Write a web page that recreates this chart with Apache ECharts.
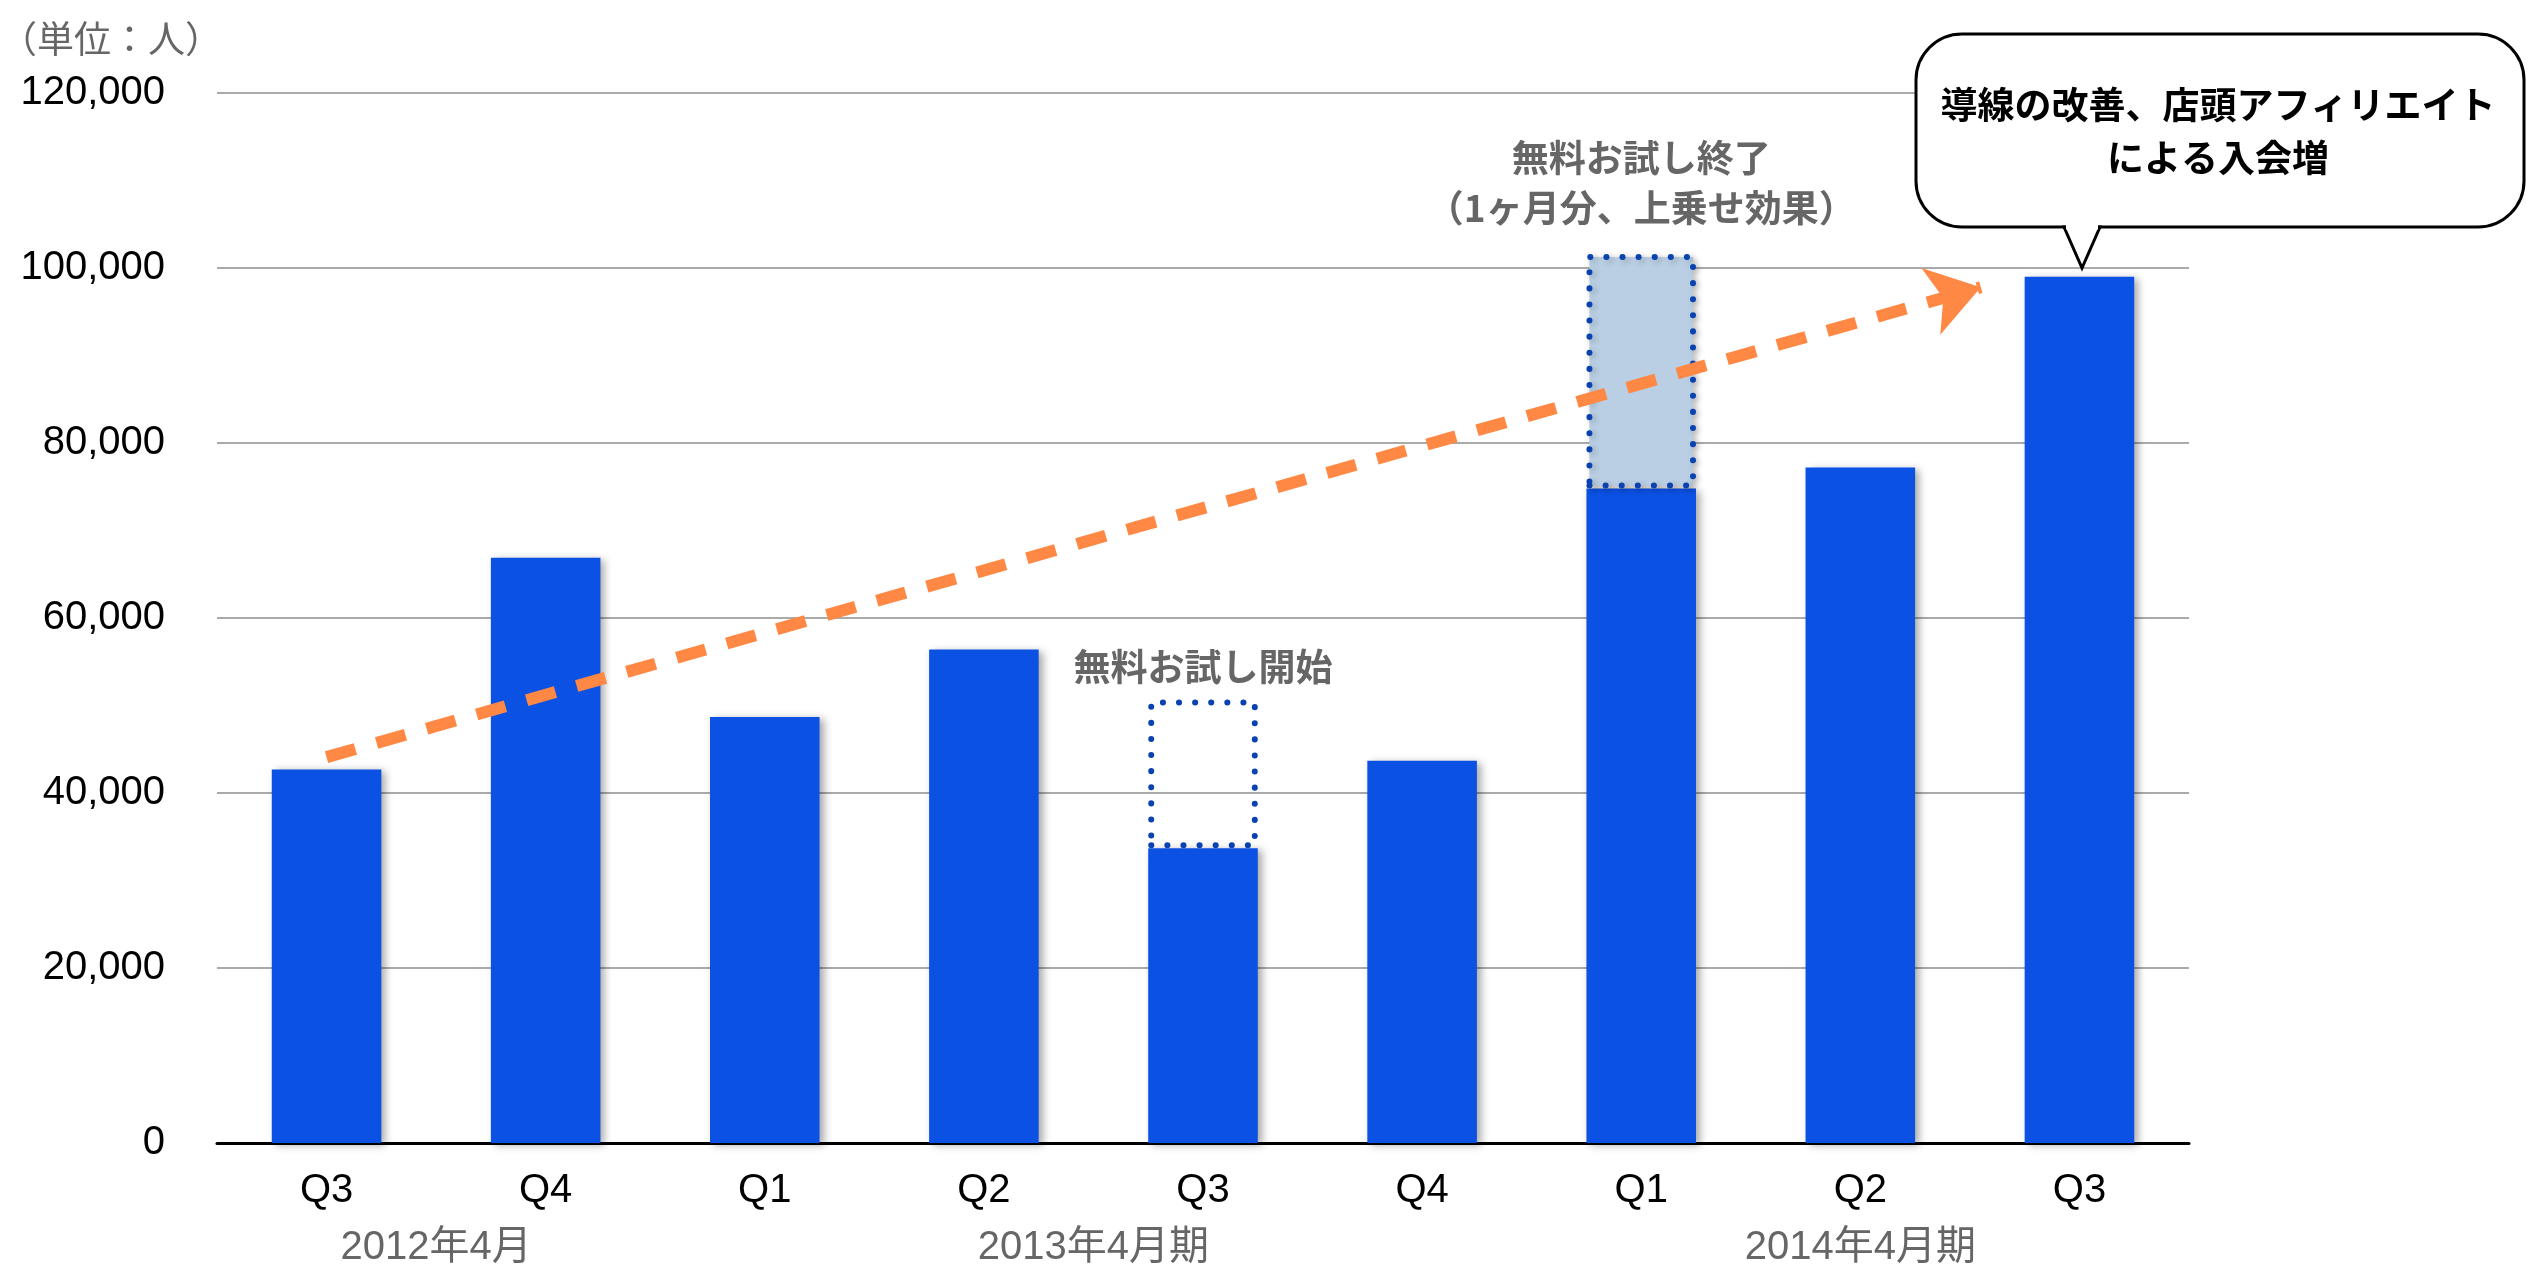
<!DOCTYPE html>
<html>
<head>
<meta charset="utf-8">
<title>会員数推移</title>
<script src="https://cdn.jsdelivr.net/npm/echarts@6/dist/echarts.min.js"></script>
<style type="text/css">
html, body { margin: 0; padding: 0; background: #fff; }
#main { width: 2531px; height: 1266px; }
</style>
</head>
<body>
<div id="main"></div>
<script type="text/javascript">
    // 四半期ラベル
    var quarters = ['Q3', 'Q4', 'Q1', 'Q2', 'Q3', 'Q4', 'Q1', 'Q2', 'Q3'];
    // 会員数(人)
    var members = [42700, 66900, 48700, 56400, 33700, 43700, 74800, 77200, 99000];
    // 無料お試し分(点線の枠)
    var trialExtra = [null, null, null, null, 17000, null, 26800, null, null];
    var trialNotes = ['', '', '', '', '無料お試し開始', '', '無料お試し終了\n（1ヶ月分、上乗せ効果）', '', ''];
    // 期のラベル(カテゴリ位置)
    var yearPos = [0.5, 3.5, 7];
    var yearText = ['2012年4月', '2013年4月期', '2014年4月期'];
    // 傾向線 (始点と矢印の先)
    var trendX = [0, 7.55];
    var trendY = [44100, 97800];

    var font = "'Liberation Sans', 'Noto Sans CJK JP', sans-serif";
    var cjk = "'Noto Sans CJK JP', sans-serif";
    var barBlue = '#0B51E3';
    var dotBlue = '#0A42B0';

    var trialData = trialExtra.map(function (v, i) {
        if (v == null) return null;
        var last = (i === 6);
        return {
            value: v,
            itemStyle: {
                color: last ? '#BACFE4' : 'rgba(255,255,255,0)',
                shadowColor: last ? 'rgba(0,0,0,0.25)' : 'rgba(0,0,0,0)'
            },
            label: {
                show: true,
                formatter: trialNotes[i],
                distance: last ? 21 : 7
            }
        };
    });

    var chart = echarts.init(document.getElementById('main'), null, { renderer: 'canvas' });
    var option = {
        animation: false,
        textStyle: { fontFamily: font },
        grid: { left: 217, right: 342, top: 93, bottom: 123, outerBoundsMode: 'none' },
        xAxis: [
            {
                type: 'category',
                data: quarters,
                axisLine: { lineStyle: { color: '#000', width: 3 } },
                axisTick: { show: false },
                axisLabel: { color: '#000', fontSize: 40, margin: 28, fontFamily: font }
            },
            {
                type: 'value',
                min: -0.5,
                max: 8.5,
                position: 'bottom',
                axisLine: { show: false },
                axisTick: { show: false },
                splitLine: { show: false },
                axisLabel: {
                    customValues: yearPos,
                    color: '#666',
                    fontSize: 40,
                    margin: 85,
                    fontFamily: font,
                    formatter: function (v) {
                        var k = yearPos.indexOf(v);
                        return k >= 0 ? yearText[k] : '';
                    }
                }
            }
        ],
        yAxis: {
            type: 'value',
            min: 0,
            max: 120000,
            interval: 20000,
            axisLine: { show: false },
            axisTick: { show: false },
            splitLine: { lineStyle: { color: '#aaaaaa', width: 2 } },
            axisLabel: {
                color: '#000',
                fontSize: 40,
                margin: 52,
                fontFamily: font,
                formatter: function (v) { return v.toLocaleString('en-US'); }
            }
        },
        series: [
            {
                name: '会員数',
                type: 'bar',
                stack: 'total',
                barWidth: '50%',
                data: members,
                itemStyle: {
                    color: barBlue,
                    shadowBlur: 8,
                    shadowOffsetX: 4,
                    shadowOffsetY: 2,
                    shadowColor: 'rgba(0,0,0,0.35)'
                }
            },
            {
                name: '無料お試し',
                type: 'bar',
                stack: 'total',
                barWidth: '50%',
                data: trialData,
                itemStyle: {
                    borderColor: dotBlue,
                    borderWidth: 6,
                    borderType: [0.1, 16],
                    borderCap: 'round',
                    shadowBlur: 6,
                    shadowOffsetX: 3,
                    shadowOffsetY: 2
                },
                label: {
                    position: 'top',
                    color: '#666',
                    fontSize: 37,
                    fontWeight: 'bold',
                    lineHeight: 50,
                    fontFamily: cjk
                }
            },
            {
                name: 'trend',
                type: 'line',
                xAxisIndex: 1,
                data: [],
                silent: true,
                markLine: {
                    silent: true,
                    symbol: ['none', 'arrow'],
                    symbolSize: [52, 52],
                    label: { show: false },
                    lineStyle: { color: '#FF8844', width: 12, type: [30, 22], opacity: 1 },
                    data: [[{ coord: [trendX[0], trendY[0]] }, { coord: [trendX[1], trendY[1]] }]]
                }
            }
        ],
        graphic: [
            {
                type: 'text',
                left: 0,
                top: 20,
                style: { text: '（単位：人）', font: '37px ' + cjk, fill: '#666' }
            },
            {
                type: 'rect',
                shape: { x: 1916, y: 34, width: 608, height: 193, r: 46 },
                style: { fill: '#fff', stroke: '#000', lineWidth: 3 },
                z: 100
            },
            {
                type: 'polygon',
                shape: { points: [[2064, 227], [2082, 268], [2100, 227]] },
                style: { fill: '#fff', stroke: '#000', lineWidth: 3 },
                z: 101
            },
            {
                type: 'line',
                shape: { x1: 2066, y1: 227, x2: 2098, y2: 227 },
                style: { stroke: '#fff', lineWidth: 5 },
                z: 102
            },
            {
                type: 'text',
                x: 2218,
                y: 131,
                z: 103,
                style: {
                    text: '導線の改善、店頭アフィリエイト\nによる入会増',
                    font: 'bold 37px ' + cjk,
                    fill: '#000',
                    align: 'center',
                    verticalAlign: 'middle',
                    lineHeight: 53
                }
            }
        ]
    };
    chart.setOption(option);
</script>
</body>
</html>
